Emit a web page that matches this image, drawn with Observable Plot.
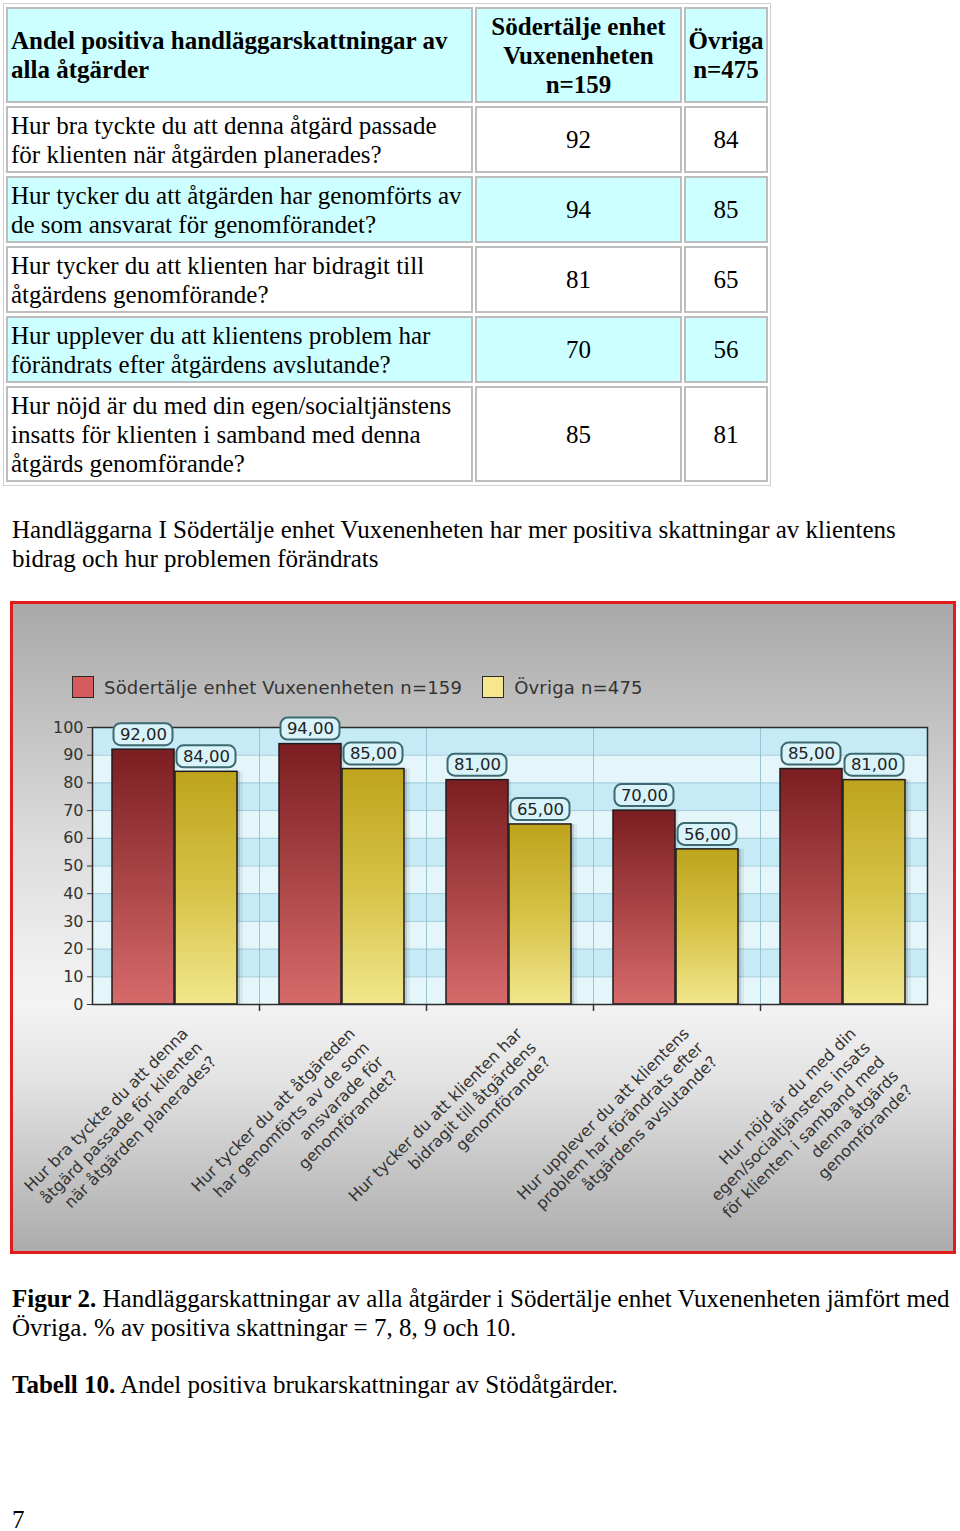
<!DOCTYPE html>
<html>
<head>
<meta charset="utf-8">
<script src="https://cdn.jsdelivr.net/npm/d3@7"></script>
<script src="https://cdn.jsdelivr.net/npm/@observablehq/plot@0.6"></script>
<style>
  html, body { margin: 0; padding: 0; background: #fff; }
  body { position: relative; width: 960px; height: 1531px; overflow: hidden;
         font-family: "Liberation Serif", "Times New Roman", serif; color: #000; }
  .tbl { position: absolute; left: 3px; top: 3px; border: 1px solid #d0d0d0;
         display: grid; grid-template-columns: 467px 207px 84px;
         grid-template-rows: 96px 67px 67px 67px 67px 96px;
         column-gap: 2px; row-gap: 3px; padding: 3px 2px; }
  .cell { box-sizing: border-box; border: 2px solid #bdbdbd; display: flex; align-items: center;
          padding: 0 3px; font-size: 25px; line-height: 29px; white-space: pre; }
  .cell.num { justify-content: center; text-align: center; }
  .cell.head { font-weight: bold; }
  .cyan { background: #ccffff; }
  .para { position: absolute; left: 12px; font-size: 25px; line-height: 29px; white-space: pre; }
  .box { position: absolute; left: 10px; top: 601px; width: 940px; height: 647px;
         border: 3px solid #e31b1b;
         background: linear-gradient(to bottom, #a9a9a9 0%, #bcbcbc 14%, #dadada 35%, #efefef 55%, #f3f3f3 62%, #e2e2e2 74%, #c4c4c4 88%, #acacac 100%); }
  .legend { position: absolute; left: 59px; top: 72px; display: flex; align-items: center;
            font-family: "DejaVu Sans", Verdana, sans-serif; font-size: 18px; letter-spacing: 0.2px; color: #333; }
  .legend .sw { display: inline-block; width: 20px; height: 20px; border: 1.5px solid #2a2a2a; margin-right: 10px; }
  .legend .item { display: flex; align-items: center; margin-right: 20px; }
  #chart { position: absolute; left: 0; top: 100px; }
</style>
</head>
<body>
<div class="tbl" id="tbl"></div>
<div class="para" id="para" style="top:515px"></div>
<div class="box" id="box">
  <div class="legend" id="legend"></div>
  <div id="chart"></div>
</div>
<div class="para" id="cap1" style="top:1284px"></div>
<div class="para" id="cap1b" style="top:1313px"></div>
<div class="para" id="cap2" style="top:1370px"></div>
<div class="para" id="page" style="top:1505px">7</div>
<script>
// ---------- data ----------
const tableHeader = ["Andel positiva handläggarskattningar av\nalla åtgärder", "Södertälje enhet\nVuxenenheten\nn=159", "Övriga\nn=475"];
const tableQuestions = [
  "Hur bra tyckte du att denna åtgärd passade\nför klienten när åtgärden planerades?",
  "Hur tycker du att åtgärden har genomförts av\nde som ansvarat för genomförandet?",
  "Hur tycker du att klienten har bidragit till\nåtgärdens genomförande?",
  "Hur upplever du att klientens problem har\nförändrats efter åtgärdens avslutande?",
  "Hur nöjd är du med din egen/socialtjänstens\ninsatts för klienten i samband med denna\nåtgärds genomförande?"
];
const chartLabels = [
  "Hur bra tyckte du att denna\nåtgärd passade för klienten\nnär åtgärden planerades?",
  "Hur tycker du att åtgäreden\nhar genomförts av de som\nansvarade för\ngenomförandet?",
  "Hur tycker du att klienten har\nbidragit till åtgärdens\ngenomförande?",
  "Hur upplever du att klientens\nproblem har förändrats efter\nåtgärdens avslutande?",
  "Hur nöjd är du med din\negen/socialtjänstens insats\nför klienten i samband med\ndenna åtgärds\ngenomförande?"
];
const seriesNames = ["Södertälje enhet Vuxenenheten n=159", "Övriga n=475"];
const sodertalje = [92, 94, 81, 70, 85];
const ovriga = [84, 85, 65, 56, 81];
const yTicks = [0, 10, 20, 30, 40, 50, 60, 70, 80, 90, 100];
const paragraphText = "Handläggarna I Södertälje enhet Vuxenenheten har mer positiva skattningar av klientens\nbidrag och hur problemen förändrats";
const figCaptionBold = "Figur 2.";
const figCaptionLine1 = " Handläggarskattningar av alla åtgärder i Södertälje enhet Vuxenenheten jämfört med";
const figCaptionLine2 = "Övriga. % av positiva skattningar = 7, 8, 9 och 10.";
const tabCaptionBold = "Tabell 10.";
const tabCaptionText = " Andel positiva brukarskattningar av Stödåtgärder.";

// ---------- table ----------
const tbl = document.getElementById("tbl");
function cell(text, cls) {
  const d = document.createElement("div");
  d.className = "cell " + cls;
  const s = document.createElement("span");
  s.textContent = text;
  d.appendChild(s);
  tbl.appendChild(d);
}
cell(tableHeader[0], "head cyan");
cell(tableHeader[1], "head num cyan");
cell(tableHeader[2], "head num cyan");
tableQuestions.forEach((q, i) => {
  const c = i % 2 === 1 ? "cyan" : "";
  cell(q, c);
  cell(String(sodertalje[i]), "num " + c);
  cell(String(ovriga[i]), "num " + c);
});

document.getElementById("para").textContent = paragraphText;
function caption(id, bold, rest) {
  const el = document.getElementById(id);
  const b = document.createElement("b");
  b.textContent = bold;
  el.appendChild(b);
  const s = document.createElement("span");
  s.textContent = rest;
  el.appendChild(s);
}
caption("cap1", figCaptionBold, figCaptionLine1);
document.getElementById("cap1b").textContent = figCaptionLine2;
caption("cap2", tabCaptionBold, tabCaptionText);

// ---------- legend ----------
const swatches = ["#d65b5d", "#f6e78f"];
const legend = document.getElementById("legend");
seriesNames.forEach((n, i) => {
  const it = document.createElement("span");
  it.className = "item";
  const sw = document.createElement("span");
  sw.className = "sw";
  sw.style.background = swatches[i];
  const t = document.createElement("span");
  t.textContent = n;
  it.appendChild(sw); it.appendChild(t);
  legend.appendChild(it);
});

// ---------- chart ----------
const d1 = chartLabels.map((c, i) => ({cat: c, v: sodertalje[i]}));
const d2 = chartLabels.map((c, i) => ({cat: c, v: ovriga[i]}));
const bands = yTicks.slice(0, -1).map(v => ({lo: v, hi: v + 10, dark: (v / 10) % 2 === 1}));
const fmt = v => v.toFixed(2).replace(".", ",");
const half = 83.5;

const defs = () => {
  const ns = "http://www.w3.org/2000/svg";
  const g = document.createElementNS(ns, "defs");
  g.innerHTML = `
    <linearGradient id="gRed" x1="0" y1="0" x2="0" y2="1">
      <stop offset="0" stop-color="#7b1e21"/>
      <stop offset="0.5" stop-color="#a84446"/>
      <stop offset="1" stop-color="#d66a6b"/>
    </linearGradient>
    <linearGradient id="gYel" x1="0" y1="0" x2="0" y2="1">
      <stop offset="0" stop-color="#bea41c"/>
      <stop offset="0.5" stop-color="#d6c246"/>
      <stop offset="1" stop-color="#f1e68c"/>
    </linearGradient>`;
  return g;
};

const chart = Plot.plot({
  width: 940,
  height: 547,
  marginLeft: 79,
  marginRight: 26,
  marginTop: 23,
  marginBottom: 247,
  style: {fontFamily: "DejaVu Sans, Verdana, sans-serif", fontSize: "16px", background: "transparent", color: "#333", overflow: "visible"},
  x: {domain: chartLabels, padding: 0, axis: null},
  y: {domain: [0, 100], axis: null},
  marks: [
    defs,
    Plot.barY([yTicks[0]], {y1: yTicks[0], y2: yTicks[yTicks.length - 1], fill: "#e5f6fb"}),
    Plot.barY(bands.filter(b => b.dark), {y1: "lo", y2: "hi", fill: "#c6eaf6"}),
    Plot.ruleY(yTicks, {stroke: "#a3cddb", strokeWidth: 1}),
    Plot.ruleX(chartLabels.slice(1), {x: d => d, dx: -half, stroke: "#99c3d1", strokeWidth: 1}),
    Plot.ruleX(chartLabels.slice(1), {x: d => d, dx: -half, y1: 0, y2: 0, insetBottom: -7, stroke: "#333", strokeWidth: 1.5}),
    Plot.axisY(yTicks, {tickSize: 5, tickPadding: 4, fontSize: 16, color: "#333", label: null}),
    // shadows
    Plot.barY(d1, {x: "cat", y: "v", insetLeft: 20, insetRight: 85, dx: 3, fill: "#000", fillOpacity: 0.08}),
    Plot.barY(d2, {x: "cat", y: "v", insetLeft: 83, insetRight: 22, dx: 3, fill: "#000", fillOpacity: 0.12}),
    Plot.barY(d2, {x: "cat", y: "v", insetLeft: 83, insetRight: 22, dx: 6, fill: "#000", fillOpacity: 0.06}),
    // bars
    Plot.barY(d1, {x: "cat", y: "v", insetLeft: 20, insetRight: 85, fill: "url(#gRed)", stroke: "#1d1d1d", strokeWidth: 1.5}),
    Plot.barY(d2, {x: "cat", y: "v", insetLeft: 83, insetRight: 22, fill: "url(#gYel)", stroke: "#1d1d1d", strokeWidth: 1.5}),
    Plot.frame({stroke: "#2b2b2b", strokeWidth: 1.5}),
    // value labels
    Plot.barY(d1, {x: "cat", y1: "v", y2: "v", insetTop: -26, insetBottom: 4, insetLeft: 21.5, insetRight: 86.5, rx: 7, fill: "#d8f3fa", stroke: "#3d6a70", strokeWidth: 2}),
    Plot.barY(d2, {x: "cat", y1: "v", y2: "v", insetTop: -26, insetBottom: 4, insetLeft: 84.5, insetRight: 23.5, rx: 7, fill: "#d8f3fa", stroke: "#3d6a70", strokeWidth: 2}),
    Plot.text(d1, {x: "cat", y: "v", text: d => fmt(d.v), dx: -32.5, dy: -15, fontSize: 16.5, fill: "#222"}),
    Plot.text(d2, {x: "cat", y: "v", text: d => fmt(d.v), dx: 30.5, dy: -15, fontSize: 16.5, fill: "#222"}),
    // rotated category labels
    Plot.text(chartLabels, {x: d => d, frameAnchor: "bottom", text: d => d, rotate: -45, textAnchor: "end", lineAnchor: "top", dx: 3, dy: 20, fontSize: 16, lineHeight: 1.25, fill: "#333"})
  ]
});
document.getElementById("chart").appendChild(chart);
</script>
</body>
</html>
